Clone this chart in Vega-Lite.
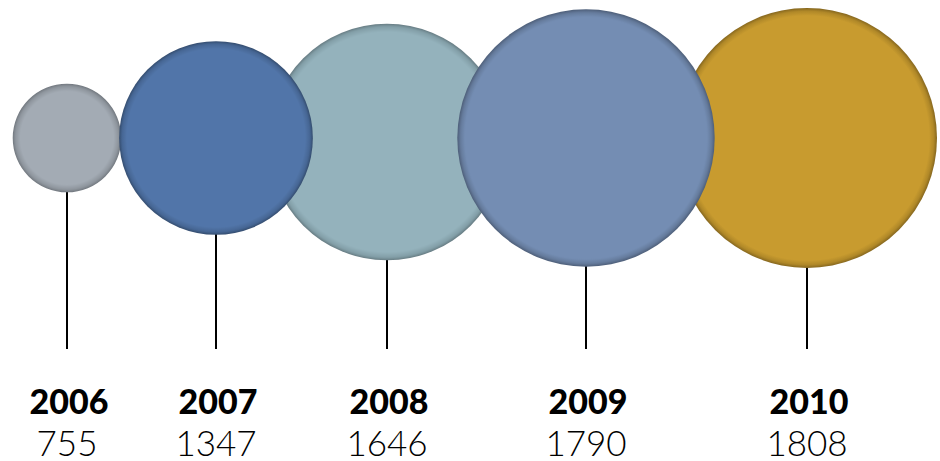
{
  "$schema": "https://vega.github.io/schema/vega-lite/v6.json",
  "width": 940,
  "height": 461,
  "padding": 0,
  "autosize": {"type": "none"},
  "background": "white",
  "config": {"view": {"stroke": null}},
  "data": {
    "values": [
      {"year": "2006", "value": 755, "pos": 67},
      {"year": "2007", "value": 1347, "pos": 216},
      {"year": "2008", "value": 1646, "pos": 387},
      {"year": "2009", "value": 1790, "pos": 586},
      {"year": "2010", "value": 1808, "pos": 807}
    ]
  },
  "encoding": {
    "x": {"field": "pos", "type": "quantitative", "scale": {"domain": [0, 940], "nice": false, "zero": false}, "axis": null}
  },
  "layer": [
    {
      "mark": {"type": "rule", "color": "black", "strokeWidth": 2},
      "encoding": {
        "y": {"datum": 140, "type": "quantitative", "scale": {"domain": [0, 461], "reverse": true, "nice": false, "zero": false}, "axis": null},
        "y2": {"datum": 349}
      }
    },
    {
      "transform": [{"filter": "datum.year == '2008'"}],
      "mark": {"type": "point", "shape": "circle", "filled": true, "opacity": 1,
        "fill": {"gradient": "radial", "x1": 0.5, "y1": 0.5, "r1": 0, "x2": 0.5, "y2": 0.5, "r2": 0.5, "stops": [{"offset": 0, "color": "#94B2BC"}, {"offset": 0.93, "color": "#94B2BC"}, {"offset": 0.975, "color": "#829EA7"}, {"offset": 1, "color": "#667B82"}]}},
      "encoding": {
        "y": {"datum": 142, "type": "quantitative"},
        "size": {"field": "value", "type": "quantitative", "scale": {"type": "pow", "exponent": 2, "domain": [0, 1808], "range": [0, 67600]}, "legend": null}
      }
    },
    {
      "transform": [{"filter": "datum.year == '2010'"}],
      "mark": {"type": "point", "shape": "circle", "filled": true, "opacity": 1,
        "fill": {"gradient": "radial", "x1": 0.5, "y1": 0.5, "r1": 0, "x2": 0.5, "y2": 0.5, "r2": 0.5, "stops": [{"offset": 0, "color": "#C89B2F"}, {"offset": 0.94, "color": "#C89B2F"}, {"offset": 0.975, "color": "#B08828"}, {"offset": 1, "color": "#85661E"}]}},
      "encoding": {
        "y": {"datum": 138, "type": "quantitative"},
        "size": {"field": "value", "type": "quantitative", "legend": null}
      }
    },
    {
      "transform": [{"filter": "datum.year == '2006'"}],
      "mark": {"type": "point", "shape": "circle", "filled": true, "opacity": 1,
        "fill": {"gradient": "radial", "x1": 0.5, "y1": 0.5, "r1": 0, "x2": 0.5, "y2": 0.5, "r2": 0.5, "stops": [{"offset": 0, "color": "#A3ABB4"}, {"offset": 0.86, "color": "#A3ABB4"}, {"offset": 0.95, "color": "#8E959D"}, {"offset": 1, "color": "#72787F"}]}},
      "encoding": {
        "y": {"datum": 138, "type": "quantitative"},
        "size": {"field": "value", "type": "quantitative", "legend": null}
      }
    },
    {
      "transform": [{"filter": "datum.year == '2007'"}],
      "mark": {"type": "point", "shape": "circle", "filled": true, "opacity": 1,
        "fill": {"gradient": "radial", "x1": 0.5, "y1": 0.5, "r1": 0, "x2": 0.5, "y2": 0.5, "r2": 0.5, "stops": [{"offset": 0, "color": "#5175A9"}, {"offset": 0.92, "color": "#5175A9"}, {"offset": 0.97, "color": "#466694"}, {"offset": 1, "color": "#344C6E"}]}},
      "encoding": {
        "y": {"datum": 138, "type": "quantitative"},
        "size": {"field": "value", "type": "quantitative", "legend": null}
      }
    },
    {
      "transform": [{"filter": "datum.year == '2009'"}],
      "mark": {"type": "point", "shape": "circle", "filled": true, "opacity": 1,
        "fill": {"gradient": "radial", "x1": 0.5, "y1": 0.5, "r1": 0, "x2": 0.5, "y2": 0.5, "r2": 0.5, "stops": [{"offset": 0, "color": "#748DB3"}, {"offset": 0.94, "color": "#748DB3"}, {"offset": 0.975, "color": "#657B9C"}, {"offset": 1, "color": "#4D5E78"}]}},
      "encoding": {
        "y": {"datum": 138, "type": "quantitative"},
        "size": {"field": "value", "type": "quantitative", "legend": null}
      }
    },
    {
      "mark": {"type": "text", "font": "Lato", "fontWeight": 900, "fontSize": 34, "color": "black", "baseline": "alphabetic", "align": "center", "letterSpacing": 3.5, "dx": 2},
      "encoding": {
        "y": {"datum": 414, "type": "quantitative"},
        "text": {"field": "year", "type": "nominal"}
      }
    },
    {
      "mark": {"type": "text", "font": "Lato", "fontWeight": 300, "fontSize": 35, "color": "black", "baseline": "alphabetic", "align": "center", "letterSpacing": 0.8},
      "encoding": {
        "y": {"datum": 456, "type": "quantitative"},
        "text": {"field": "value", "type": "quantitative", "format": "d"}
      }
    }
  ]
}
